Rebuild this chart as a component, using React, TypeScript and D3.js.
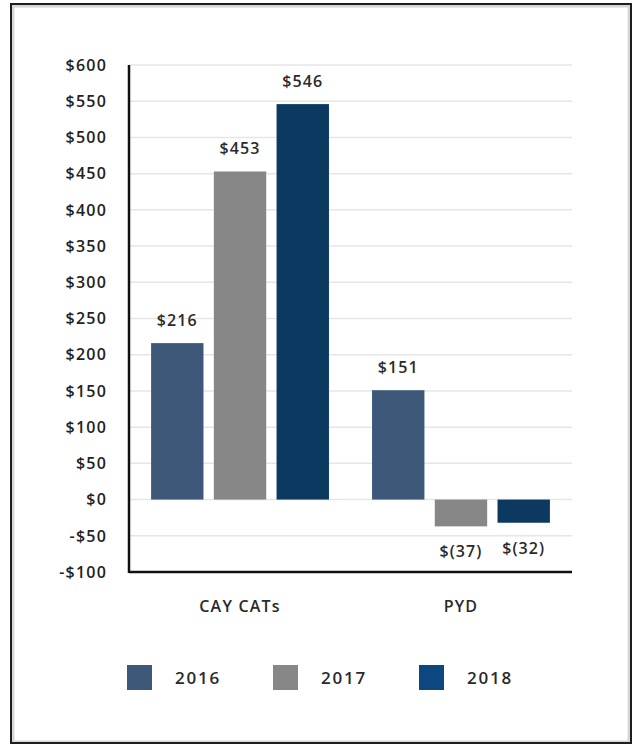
import React from "react";
import * as d3 from "d3";

const categories = ["CAY CATs", "PYD"];
const years = ["2016", "2017", "2018"];
const values2016 = [216, 151];
const values2017 = [453, -37];
const values2018 = [546, -32];
const valueLabels2016 = ["$216", "$151"];
const valueLabels2017 = ["$453", "$(37)"];
const valueLabels2018 = ["$546", "$(32)"];
const yTicks = [-100, -50, 0, 50, 100, 150, 200, 250, 300, 350, 400, 450, 500, 550, 600];
const yTickLabels = yTicks.map((t) => (t < 0 ? `-$${-t}` : `$${t}`));
const colors = ["#3d5878", "#878787", "#0c3960"];
const legendColors = ["#3d5878", "#878787", "#0c4780"];

const W = 638;
const H = 744;
const FONT = "'Open Sans', 'DejaVu Sans', sans-serif";

export default function App() {
  const plotLeft = 129;
  const plotRight = 572;
  const y = d3.scaleLinear().domain([-100, 600]).range([572, 65]);
  const x0 = d3
    .scaleBand<string>()
    .domain(categories)
    .range([plotLeft, plotRight])
    .paddingInner(0.195)
    .paddingOuter(0.1);
  const x1 = d3.scaleBand<string>().domain(years).range([0, x0.bandwidth()]).paddingInner(0.165);

  const series = [values2016, values2017, values2018];
  const labels = [valueLabels2016, valueLabels2017, valueLabels2018];

  const legendX = d3.scalePoint<string>().domain(years).range([127, 419]);

  return (
    <div style={{ position: "absolute", left: 0, top: 0 }}>
      <svg width={W} height={H} style={{ display: "block", background: "#ffffff" }}>
        <rect x={0} y={0} width={W} height={H} fill="#ffffff" />
        {/* frame */}
        <rect x={13} y={6} width={616} height={736} fill="none" stroke="#d6d6d6" strokeWidth={3} />
        <rect x={11} y={4} width={620} height={739} fill="none" stroke="#1e1e1e" strokeWidth={2} />

        {/* gridlines */}
        {yTicks.map((t) => (
          <line key={t} x1={plotLeft} x2={plotRight} y1={y(t)} y2={y(t)} stroke="#e6e6e6" strokeWidth={1.5} />
        ))}

        {/* y tick labels */}
        {yTicks.map((t, i) => (
          <text
            key={t}
            x={107}
            y={y(t)}
            dy="0.36em"
            textAnchor="end"
            fontFamily={FONT}
            fontWeight={600}
            fontSize={16}
            fill="#222"
            letterSpacing={1.2}
          >
            {yTickLabels[i]}
          </text>
        ))}

        {/* bars */}
        {categories.map((c, ci) => (
          <g key={c} transform={`translate(${x0(c)},0)`}>
            {years.map((yr, si) => {
              const v = series[si][ci];
              const top = y(Math.max(0, v));
              const bottom = y(Math.min(0, v));
              const cx = (x1(yr) as number) + x1.bandwidth() / 2;
              const ly = v >= 0 ? top - 17.5 : bottom + 31;
              return (
                <g key={yr}>
                  <rect x={x1(yr)} y={top} width={x1.bandwidth()} height={bottom - top} fill={colors[si]} />
                  <text
                    x={cx}
                    y={ly}
                    textAnchor="middle"
                    fontFamily={FONT}
                    fontWeight={600}
                    fontSize={16}
                    fill="#2a2a2a"
                    letterSpacing={1.1}
                  >
                    {labels[si][ci]}
                  </text>
                </g>
              );
            })}
          </g>
        ))}

        {/* axes */}
        <line x1={plotLeft} x2={plotLeft} y1={y(600)} y2={y(-100) + 1} stroke="#111" strokeWidth={2.5} />
        <line x1={plotLeft} x2={plotRight} y1={y(-100)} y2={y(-100)} stroke="#111" strokeWidth={2.5} />

        {/* category labels */}
        {categories.map((c) => (
          <text
            key={c}
            x={(x0(c) as number) + x0.bandwidth() / 2}
            y={612}
            textAnchor="middle"
            fontFamily={FONT}
            fontWeight={600}
            fontSize={16}
            fill="#2a2a2a"
            letterSpacing={1.2}
          >
            {c}
          </text>
        ))}

        {/* legend */}
        {years.map((yr, i) => {
          const lx = legendX(yr) as number;
          return (
            <g key={yr}>
              <rect x={lx} y={665} width={25} height={25} fill={legendColors[i]} />
              <text
                x={lx + 71}
                y={678}
                dy="0.36em"
                textAnchor="middle"
                fontFamily={FONT}
                fontWeight={600}
                fontSize={17}
                fill="#2a2a2a"
                letterSpacing={1.8}
              >
                {yr}
              </text>
            </g>
          );
        })}
      </svg>
    </div>
  );
}
